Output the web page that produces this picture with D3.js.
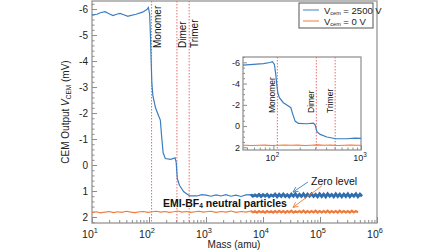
<!DOCTYPE html>
<html><head><meta charset="utf-8">
<script src="https://cdn.jsdelivr.net/npm/d3@7"></script>
<style>html,body{margin:0;padding:0;background:#fff;}svg{display:block;font-family:"Liberation Sans",Arial,sans-serif;}</style>
</head><body>
<svg id="c" width="448" height="252"></svg>
<script>
// ---- data ----
const blueMassHead = [10, 12.2, 14, 16.9, 20, 23.4, 27, 31, 36, 42.8, 45, 59, 77, 91.7, 97.4, 102.7, 106.5, 109.4, 112.3, 117, 130, 148.4, 158, 166.7, 177, 193, 241, 287, 300, 314, 342, 408, 517, 690, 850, 1000];
const blueValHead  = [-5.77, -5.8, -5.86, -5.9, -5.82, -5.75, -5.8, -5.83, -5.78, -5.72, -5.74, -5.8, -5.88, -5.98, -6.06, -5.8, -4.86, -3.9, -3.14, -2.67, -2.2, -1.88, -1.73, -1.1, -0.47, -0.25, -0.22, -0.28, -0.1, 0.53, 0.78, 1.03, 1.19, 1.19, 1.14, 1.16];
const tailMass = [1224, 1500, 1830, 2240, 2740, 3360, 4110, 5030,
  6150, 6670, 7240, 7860, 8520, 9250, 10000, 10900,
  11800, 12800, 13900, 15100, 16300, 17700, 19200, 20900,
  22700, 24600, 26700, 28900, 31400, 34100, 37000, 40100,
  43500, 47200, 51200, 55600, 60300, 65400, 71000, 77000,
  83500, 90600, 98300, 107000, 116000, 126000, 136000, 148000,
  160000, 174000, 189000, 205000, 222000, 241000, 262000, 284000,
  308000, 334000, 362000, 393000, 427000, 463000, 502000, 545000];
const blueTailVal = [1.2, 1.15, 1.19, 1.14, 1.2, 1.16, 1.21, 1.15,
  1.14, 1.2, 1.15, 1.2, 1.13, 1.21, 1.14, 1.2,
  1.13, 1.22, 1.15, 1.2, 1.12, 1.22, 1.13, 1.21,
  1.12, 1.21, 1.14, 1.22, 1.12, 1.2, 1.11, 1.22,
  1.13, 1.21, 1.11, 1.22, 1.12, 1.2, 1.11, 1.21,
  1.13, 1.22, 1.11, 1.21, 1.12, 1.22, 1.11, 1.2,
  1.13, 1.22, 1.11, 1.21, 1.12, 1.22, 1.12, 1.21,
  1.11, 1.22, 1.13, 1.2, 1.11, 1.22, 1.12, 1.2];
const orangeMassHead = [10, 12, 14, 17, 20, 24, 28, 33, 40, 48, 57, 68, 80, 95, 113, 135, 160, 190, 226, 270, 320, 380, 450, 540, 640, 760, 900, 1000];
const orangeValHead  = [1.82, 1.8, 1.84, 1.81, 1.79, 1.83, 1.8, 1.82, 1.78, 1.81, 1.83, 1.8, 1.79, 1.82, 1.8, 1.78, 1.81, 1.79, 1.82, 1.8, 1.77, 1.81, 1.79, 1.82, 1.8, 1.78, 1.81, 1.8];
const orangeTailVal = [1.78, 1.82, 1.79, 1.81, 1.77, 1.82, 1.79, 1.81,
  1.77, 1.82, 1.78, 1.83, 1.77, 1.82, 1.78, 1.83,
  1.77, 1.82, 1.78, 1.83, 1.77, 1.82, 1.76, 1.82,
  1.77, 1.83, 1.77, 1.82, 1.76, 1.83, 1.78, 1.82,
  1.77, 1.82, 1.76, 1.83, 1.77, 1.82, 1.77, 1.82,
  1.76, 1.83, 1.77, 1.82, 1.77, 1.82, 1.76, 1.83,
  1.77, 1.82, 1.77, 1.83, 1.76, 1.82, 1.77, 1.82,
  1.77, 1.83, 1.76, 1.82, 1.77, 1.82];
const peakMass = [111, 309, 507];
const peakLabels = ["Monomer", "Dimer", "Trimer"];
const xMajorExp = [1, 2, 3, 4, 5, 6];
const yMajor = [-6, -5, -4, -3, -2, -1, 0, 1, 2];
const insetXMajorExp = [2, 3];
const insetYMajor = [-6, -4, -2, 0, 2];
const seriesNames = ["2500 V", "0 V"];
const blueColor = "#3a7dc0", blueDark = "#2d6db0", orangeColor = "#f07a3a";

const blue = blueMassHead.map((m, i) => [m, blueValHead[i]]).concat(tailMass.map((m, i) => [m, blueTailVal[i]]));
const orange = orangeMassHead.map((m, i) => [m, orangeValHead[i]]).concat(tailMass.slice(0, orangeTailVal.length).map((m, i) => [m, orangeTailVal[i]]));

// ---- drawing ----
const svg = d3.select("#c");
const frameColor = "#8c8c8c";
const font = "Liberation Sans, Arial, sans-serif";

function minorLog(lo, hi) {
  const out = [];
  for (let e = lo; e < hi; e++) for (let k = 2; k <= 9; k++) out.push(k * Math.pow(10, e));
  return out;
}

function supLabel(g, xpos, ypos, exp, size) {
  const t = g.append("text").attr("x", xpos).attr("y", ypos).attr("text-anchor", "middle")
    .attr("font-size", size).attr("fill", "#222");
  t.append("tspan").text("10");
  t.append("tspan").attr("dy", -size * 0.45).attr("font-size", size * 0.7).text(exp);
}

// Main axes
const x = d3.scaleLog().domain([10, 1e6]).range([92, 377]);
const y = d3.scaleLinear().domain([-6.31, 2.23]).range([1, 223]);

const main = svg.append("g");
main.append("rect").attr("x", 92).attr("y", 1).attr("width", 285).attr("height", 222)
  .attr("fill", "none").attr("stroke", frameColor).attr("stroke-width", 1.2);

// y ticks
const yAx = d3.axisLeft(y).tickValues(yMajor).tickSize(-5).tickPadding(4).tickFormat(d => String(d));
const gy = main.append("g").attr("transform", "translate(92,0)").call(yAx);
gy.select(".domain").remove();
gy.selectAll("line").attr("stroke", frameColor);
gy.selectAll("text").attr("font-size", 10).attr("fill", "#222").attr("font-family", font);
const yMinor = d3.range(-62, 23, 2).map(v => v / 10).filter(v => Math.abs(v - Math.round(v)) > 1e-6);
const gym = main.append("g").attr("transform", "translate(92,0)").call(d3.axisLeft(y).tickValues(yMinor).tickSize(-2.5).tickFormat(""));
gym.select(".domain").remove();
gym.selectAll("line").attr("stroke", frameColor);

// x ticks
const gx = main.append("g").attr("transform", "translate(0,223)")
  .call(d3.axisBottom(x).tickValues(xMajorExp.map(e => Math.pow(10, e))).tickSize(-6).tickFormat(""));
gx.select(".domain").remove();
gx.selectAll("line").attr("stroke", frameColor);
const gxm = main.append("g").attr("transform", "translate(0,223)")
  .call(d3.axisBottom(x).tickValues(minorLog(1, 6)).tickSize(-3).tickFormat(""));
gxm.select(".domain").remove();
gxm.selectAll("line").attr("stroke", frameColor);
xMajorExp.forEach(e => supLabel(main, x(Math.pow(10, e)) - 2, 238, e, 10.5));

// peak lines main
peakMass.forEach((m, i) => {
  main.append("line").attr("x1", x(m)).attr("x2", x(m)).attr("y1", 1).attr("y2", 223)
    .attr("stroke", "#ee6a6a").attr("stroke-width", 1).attr("stroke-dasharray", "1.5,1.5");
  main.append("text").attr("transform", `translate(${x(m) + 9},48) rotate(-90)`)
    .attr("font-size", 10).attr("fill", "#111").text(peakLabels[i]);
});

// curves main
const line = d3.line().x(d => x(d[0])).y(d => y(d[1]));
main.append("path").datum(orange).attr("d", line).attr("fill", "none").attr("stroke", orangeColor).attr("stroke-width", 1.1);
main.append("path").datum(orange.filter(d => d[0] >= 6000)).attr("d", line).attr("fill", "none").attr("stroke", orangeColor).attr("stroke-width", 2.2);
main.append("path").datum(blue).attr("d", line).attr("fill", "none").attr("stroke", blueColor).attr("stroke-width", 1.2);
main.append("path").datum(blue.filter(d => d[0] >= 6000)).attr("d", line).attr("fill", "none").attr("stroke", blueDark).attr("stroke-width", 2.8);

// axis labels
svg.append("text").attr("x", 234).attr("y", 248).attr("text-anchor", "middle").attr("font-size", 10).attr("fill", "#222").text("Mass (amu)");
const yl = svg.append("text").attr("transform", "translate(69,112) rotate(-90)").attr("text-anchor", "middle").attr("font-size", 10).attr("fill", "#222");
yl.append("tspan").text("CEM Output ");
yl.append("tspan").attr("font-style", "italic").text("V");
yl.append("tspan").attr("font-size", 6.5).attr("dy", 2).text("CEM");
yl.append("tspan").attr("dy", -2).text(" (mV)");

// annotations (data coords)
const defs = svg.append("defs");
[["arB", blueColor], ["arO", orangeColor]].forEach(([id, c]) => {
  defs.append("marker").attr("id", id).attr("viewBox", "0 0 10 10").attr("refX", 9).attr("refY", 5)
    .attr("markerWidth", 7).attr("markerHeight", 7).attr("orient", "auto")
    .append("path").attr("d", "M1,1 L9,5 L1,9").attr("fill", "none").attr("stroke", c).attr("stroke-width", 1.3);
});
main.append("line").attr("x1", x(61700)).attr("y1", y(0.65)).attr("x2", x(33600)).attr("y2", y(1.04))
  .attr("stroke", blueColor).attr("stroke-width", 0.9).attr("marker-end", "url(#arB)");
main.append("line").attr("x1", x(108000)).attr("y1", y(0.8)).attr("x2", x(33600)).attr("y2", y(1.63))
  .attr("stroke", orangeColor).attr("stroke-width", 0.9).attr("marker-end", "url(#arO)");
main.append("text").attr("x", x(69500)).attr("y", y(0.77)).attr("font-size", 10.5).attr("fill", "#111").text("Zero level");
const nt = main.append("text").attr("x", x(26300)).attr("y", y(1.62)).attr("text-anchor", "end")
  .attr("font-size", 10.5).attr("font-weight", "bold").attr("fill", "#111");
nt.append("tspan").text("EMI-BF");
nt.append("tspan").attr("font-size", 6.5).attr("dy", 1).text("4");
nt.append("tspan").attr("dy", -1).text(" neutral particles");

// legend
const lg = svg.append("g");
lg.append("rect").attr("x", 299).attr("y", 3).attr("width", 74).attr("height", 25).attr("fill", "#fff").attr("stroke", "#555").attr("stroke-width", 1);
[blueColor, orangeColor].forEach((c, i) => {
  const yy = 10 + i * 11;
  lg.append("line").attr("x1", 303).attr("x2", 319).attr("y1", yy).attr("y2", yy).attr("stroke", c).attr("stroke-width", 1.3).attr("opacity", 0.75);
  const t = lg.append("text").attr("x", 324).attr("y", yy + 3.5).attr("font-size", 9.5).attr("fill", "#222");
  t.append("tspan").text("V");
  t.append("tspan").attr("font-size", 5.5).attr("dy", 1.5).text("cem");
  t.append("tspan").attr("dy", -1.5).text(" = " + seriesNames[i]);
});

// inset
const xi = d3.scaleLog().domain([45, 1000]).range([243, 361]);
const yi = d3.scaleLinear().domain([-6.5, 2.25]).range([57, 150]);
const ins = svg.append("g");
ins.append("rect").attr("x", 243).attr("y", 57).attr("width", 118).attr("height", 93).attr("fill", "#fff")
  .attr("stroke", frameColor).attr("stroke-width", 1.2);
defs.append("clipPath").attr("id", "ic").append("rect").attr("x", 243).attr("y", 57).attr("width", 118).attr("height", 93);
const iy = ins.append("g").attr("transform", "translate(243,0)")
  .call(d3.axisLeft(yi).tickValues(insetYMajor).tickSize(-4).tickPadding(3).tickFormat(d => String(d)));
iy.select(".domain").remove();
iy.selectAll("line").attr("stroke", frameColor);
iy.selectAll("text").attr("font-size", 9).attr("fill", "#222").attr("font-family", font);
const iym = ins.append("g").attr("transform", "translate(243,0)")
  .call(d3.axisLeft(yi).tickValues(d3.range(-13, 5).map(v => v / 2).filter(v => v % 2 !== 0)).tickSize(-2).tickFormat(""));
iym.select(".domain").remove();
iym.selectAll("line").attr("stroke", frameColor);
const ix = ins.append("g").attr("transform", "translate(0,150)")
  .call(d3.axisBottom(xi).tickValues(insetXMajorExp.map(e => Math.pow(10, e))).tickSize(-5).tickFormat(""));
ix.select(".domain").remove();
ix.selectAll("line").attr("stroke", frameColor);
const ixm = ins.append("g").attr("transform", "translate(0,150)")
  .call(d3.axisBottom(xi).tickValues(minorLog(1, 3).filter(v => v >= 45 && v <= 1000)).tickSize(-2.5).tickFormat(""));
ixm.select(".domain").remove();
ixm.selectAll("line").attr("stroke", frameColor);
insetXMajorExp.forEach(e => supLabel(ins, xi(Math.pow(10, e)) - 1, 161, e, 9));
peakMass.forEach((m, i) => {
  ins.append("line").attr("x1", xi(m)).attr("x2", xi(m)).attr("y1", 57).attr("y2", 150)
    .attr("stroke", "#ee6a6a").attr("stroke-width", 1).attr("stroke-dasharray", "1.5,1.5");
  ins.append("text").attr("transform", `translate(${xi(m) - 2},113) rotate(-90)`)
    .attr("font-size", 8.5).attr("fill", "#111").text(peakLabels[i]);
});
const iline = d3.line().x(d => xi(d[0])).y(d => yi(d[1]));
const cg = ins.append("g").attr("clip-path", "url(#ic)");
cg.append("path").datum(orange.filter(d => d[0] >= 30 && d[0] <= 1300)).attr("d", iline).attr("fill", "none").attr("stroke", orangeColor).attr("stroke-width", 1.1);
cg.append("path").datum(blue.filter(d => d[0] >= 30 && d[0] <= 1300)).attr("d", iline).attr("fill", "none").attr("stroke", blueColor).attr("stroke-width", 1.2);
</script>
</body></html>
